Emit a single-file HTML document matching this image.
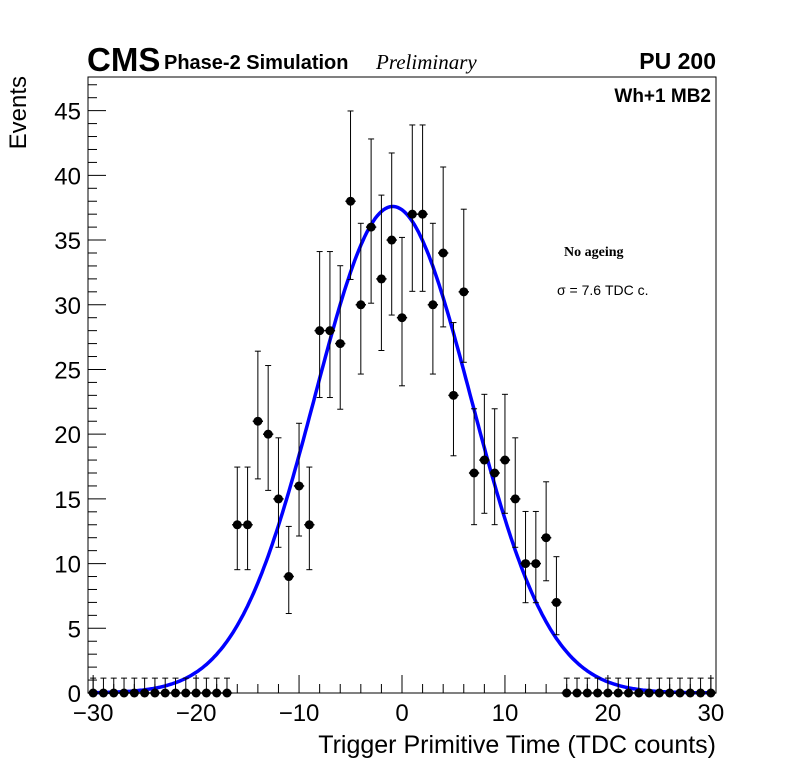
<!DOCTYPE html>
<html><head><meta charset="utf-8"><style>
body{margin:0;background:#fff}
svg{display:block;font-family:"Liberation Sans",sans-serif}
</style></head><body>
<svg id="c" width="796" height="772">
</svg>
<script>
const xCenters=[-30,-29,-28,-27,-26,-25,-24,-23,-22,-21,-20,-19,-18,-17,-16,-15,-14,-13,-12,-11,-10,-9,-8,-7,-6,-5,-4,-3,-2,-1,0,1,2,3,4,5,6,7,8,9,10,11,12,13,14,15,16,17,18,19,20,21,22,23,24,25,26,27,28,29,30];
const counts=[0,0,0,0,0,0,0,0,0,0,0,0,0,0,13,13,21,20,15,9,16,13,28,28,27,38,30,36,32,35,29,37,37,30,34,23,31,17,18,17,18,15,10,10,12,7,0,0,0,0,0,0,0,0,0,0,0,0,0,0,0];
const fitParams={amp:37.6,mean:-0.9,sigma:7.6};
const xTicks=[-30,-20,-10,0,10,20,30];
const yTicks=[0,5,10,15,20,25,30,35,40,45];
const L=88,R=716,T=77,B=693,xmin=-30.5,xmax=30.5,ymin=0,ymax=47.6;
const X=v=>L+(v-xmin)/(xmax-xmin)*(R-L);
const Y=v=>B-(v-ymin)/(ymax-ymin)*(B-T);
const svg=document.getElementById('c');const NS='http://www.w3.org/2000/svg';
function mk(t,a,p){const e=document.createElementNS(NS,t);for(const k in a)e.setAttribute(k,a[k]);(p||svg).appendChild(e);return e;}
const frame=mk('rect',{x:L,y:T,width:R-L,height:B-T,fill:'none',stroke:'#000','stroke-width':1});


for(let v=-30;v<=30;v+=2){const maj=v%10===0;const l=mk('line',{x1:X(v),x2:X(v),y1:B,y2:B-(maj?18:9),stroke:'#000'});

}
xTicks.forEach(v=>{const t=mk('text',{x:X(v),y:B+28,'font-size':24,'text-anchor':'middle'});t.textContent=(v<0?'\u2212'+(-v):v);

});
for(let v=0;v<=47;v+=1){const maj=v%5===0;const l=mk('line',{x1:L,x2:L+(maj?18:9),y1:Y(v),y2:Y(v),stroke:'#000'});

}
yTicks.forEach(v=>{const t=mk('text',{x:L-7,y:Y(v)+9,'font-size':24,'text-anchor':'end'});t.textContent=v;

});
let d='';for(let i=0;i<=300;i++){const x=-30+60*i/300;const y=fitParams.amp*Math.exp(-0.5*Math.pow((x-fitParams.mean)/fitParams.sigma,2));d+=(i?'L':'M')+X(x).toFixed(1)+','+Y(y).toFixed(1);}
const fc=mk('path',{d:d,fill:'none',stroke:'#0000ff','stroke-width':3.5});


xCenters.forEach((x,i)=>{const n=counts[i];const g=mk('g',{});


const up=n===0?1.15:n+Math.sqrt(n+0.75)+1-0.25;const lo=n===0?0:n-Math.sqrt(n-0.25)+0.1;
mk('line',{x1:X(x),x2:X(x),y1:Y(up),y2:Y(lo),stroke:'#000'},g);
mk('line',{x1:X(x)-3,x2:X(x)+3,y1:Y(up),y2:Y(up),stroke:'#000'},g);
if(n>0)mk('line',{x1:X(x)-3,x2:X(x)+3,y1:Y(lo),y2:Y(lo),stroke:'#000'},g);
mk('line',{x1:X(x-0.5),x2:X(x+0.5),y1:Y(n),y2:Y(n),stroke:'#000','stroke-width':1.5},g);
mk('circle',{cx:X(x),cy:Y(n),r:4.5,fill:'#000'},g);});
function txt(s,a,name){const t=mk('text',a);t.textContent=s;return t;}
txt('CMS',{x:87,y:71,'font-size':33,'font-weight':'bold'},'cms-label');
txt('Phase-2 Simulation',{x:164,y:69,'font-size':20,'font-weight':'bold'},'phase2-label');
txt('Preliminary',{x:376,y:69,'font-size':21,'font-style':'italic','font-family':'Liberation Serif'},'preliminary-label');
txt('PU 200',{x:716,y:69,'font-size':23,'font-weight':'bold','text-anchor':'end'},'pileup-label');
txt('Wh+1 MB2',{x:711,y:102,'font-size':19,'font-weight':'bold','text-anchor':'end'},'chamber-label');
txt('No ageing',{x:564,y:256,'font-size':14,'font-weight':'bold','font-family':'Liberation Serif'},'ageing-label');
txt('\u03c3 = 7.6 TDC c.',{x:557,y:295,'font-size':14},'sigma-label');
txt('Trigger Primitive Time (TDC counts)',{x:716,y:753,'font-size':25,'text-anchor':'end'},'x-axis-title');
txt('Events',{x:0,y:0,'font-size':24,'text-anchor':'end',transform:'translate(26,76) rotate(-90)'},'y-axis-title');
</script>
</body></html>
